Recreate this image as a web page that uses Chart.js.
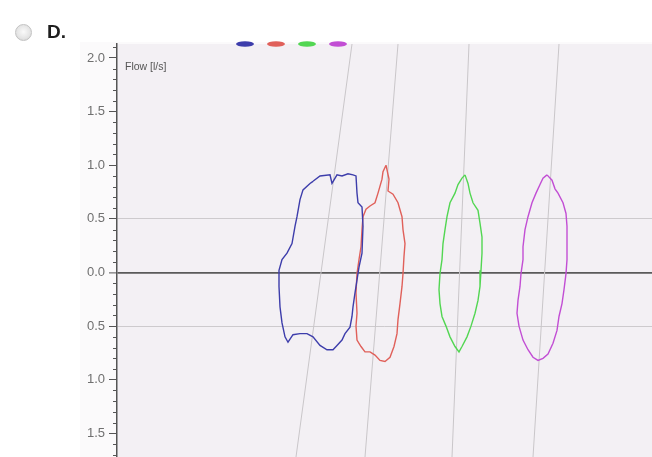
<!DOCTYPE html>
<html><head><meta charset="utf-8">
<script src="https://cdn.jsdelivr.net/npm/chart.js@4/dist/chart.umd.min.js"></script>
<style>
html,body{margin:0;padding:0;background:#fff;}
#wrap{position:relative;width:652px;height:457px;overflow:hidden;font-family:"Liberation Sans",Arial,sans-serif;}
canvas{position:absolute;left:0;top:0;}
#radio{position:absolute;left:15px;top:24px;width:15px;height:15px;border-radius:50%;border:1px solid #c2c2c2;background:radial-gradient(circle at 50% 45%,#fafafa 0%,#e4e4e4 60%,#cccccc 100%);}
#opt{position:absolute;left:47px;top:21px;font-weight:bold;font-size:19px;color:#1e1e1e;}
#ylab{position:absolute;left:125px;top:60px;font-size:10.5px;color:#555;}
</style></head>
<body><div id="wrap"><canvas id="c" width="652" height="457"></canvas><div id="radio"></div><div id="opt">D.</div><div id="ylab">Flow [l/s]</div></div>
<script>
// Y axis labels (shown without sign as in the reference)
const yTickValues = [2.0, 1.5, 1.0, 0.5, 0.0, -0.5, -1.0, -1.5];

// Loop 1 (blue)
const blueVol  = [1.95,2.02,2.12,2.14,2.19,2.24,2.30,2.35,2.38,2.39,2.40,2.44,2.45,2.44,2.41,2.39,2.37,2.35,2.34,2.32,2.27,2.24,2.19,2.15,2.09,2.02,1.95,1.89,1.82,1.75,1.70,1.67,1.64,1.62,1.61,1.61,1.64,1.69,1.74,1.77,1.79,1.82,1.85,1.92,1.95];
const blueFlow = [0.85,0.90,0.91,0.83,0.91,0.90,0.92,0.91,0.90,0.74,0.65,0.61,0.43,0.18,0.05,-0.07,-0.19,-0.32,-0.41,-0.51,-0.57,-0.63,-0.68,-0.72,-0.72,-0.68,-0.60,-0.57,-0.57,-0.58,-0.65,-0.60,-0.47,-0.32,-0.13,0.02,0.12,0.18,0.27,0.43,0.52,0.68,0.77,0.83,0.85];

// Loop 2 (red)
const redVol  = [2.68,2.71,2.70,2.75,2.80,2.84,2.85,2.87,2.86,2.85,2.84,2.82,2.80,2.79,2.76,2.72,2.67,2.62,2.57,2.52,2.47,2.43,2.39,2.38,2.39,2.38,2.39,2.41,2.43,2.44,2.45,2.48,2.52,2.57,2.60,2.64,2.65,2.68];
const redFlow = [1.00,0.87,0.76,0.73,0.65,0.52,0.40,0.27,0.15,-0.01,-0.13,-0.29,-0.44,-0.57,-0.69,-0.79,-0.83,-0.82,-0.77,-0.74,-0.74,-0.69,-0.63,-0.50,-0.38,-0.19,-0.01,0.12,0.24,0.40,0.52,0.59,0.62,0.65,0.74,0.87,0.94,1.00];

// Loop 3 (green)
const greenVol  = [3.47,3.50,3.52,3.55,3.60,3.62,3.64,3.64,3.63,3.62,3.60,3.57,3.53,3.49,3.44,3.41,3.37,3.32,3.28,3.24,3.22,3.21,3.22,3.24,3.25,3.27,3.29,3.32,3.37,3.40,3.44,3.47];
const greenFlow = [0.91,0.83,0.74,0.65,0.58,0.46,0.33,0.18,0.02,-0.13,-0.26,-0.38,-0.50,-0.60,-0.69,-0.74,-0.69,-0.60,-0.50,-0.41,-0.29,-0.16,-0.01,0.12,0.27,0.40,0.52,0.65,0.74,0.82,0.88,0.91];

// Loop 4 (magenta)
const magentaVol  = [4.29,4.34,4.37,4.40,4.45,4.48,4.49,4.49,4.49,4.48,4.46,4.44,4.41,4.39,4.35,4.30,4.25,4.20,4.15,4.10,4.05,4.01,3.99,4.00,4.02,4.03,4.05,4.05,4.07,4.10,4.14,4.18,4.22,4.25,4.29];
const magentaFlow = [0.91,0.86,0.78,0.74,0.65,0.55,0.43,0.27,0.12,-0.01,-0.16,-0.29,-0.41,-0.54,-0.66,-0.76,-0.80,-0.82,-0.79,-0.72,-0.63,-0.50,-0.38,-0.26,-0.13,-0.01,0.12,0.24,0.40,0.52,0.65,0.74,0.82,0.88,0.91];

// Slanted reference lines (volume at top and bottom of the plot)
const refTopVol    = [2.34, 2.80, 3.51, 4.41];
const refBottomVol = [1.78, 2.47, 3.34, 4.15];
const refTopFlow = 2.13, refBottomFlow = -1.72;

const loopColors = ['#3d3dab', '#e0605a', '#52d652', '#c24ed4'];

function pts(xs, ys){ return xs.map((x,i)=>({x:x, y:ys[i]})); }

const loops = [
  pts(blueVol, blueFlow), pts(redVol, redFlow),
  pts(greenVol, greenFlow), pts(magentaVol, magentaFlow)
];

const datasets = loops.map((d,i)=>({
  data: d, borderColor: loopColors[i], borderWidth: 1.4,
  pointRadius: 0, tension: 0, fill: false
}));
refTopVol.forEach((v,i)=>{
  datasets.push({
    data: [{x:v, y:refTopFlow},{x:refBottomVol[i], y:refBottomFlow}],
    borderColor: '#c9c6c9', borderWidth: 1, pointRadius: 0, fill: false
  });
});

const bgPlugin = {
  id: 'bg',
  beforeDraw(chart){
    const {ctx, chartArea:a} = chart;
    ctx.save();
    ctx.fillStyle = '#fbfafb';
    ctx.fillRect(80, 42, chart.width-80, chart.height-42);
    ctx.fillStyle = '#f3f0f4';
    ctx.fillRect(a.left, a.top, a.right-a.left, a.bottom-a.top);
    ctx.restore();
  },
  afterDraw(chart){
    const {ctx} = chart;
    const ys = chart.scales.y;
    ctx.save();
    ctx.strokeStyle = '#555';
    ctx.lineWidth = 1;
    for(let i=-17;i<=21;i++){
      if(i%5===0) continue;
      const py = Math.round(ys.getPixelForValue(i/10))+0.5;
      ctx.beginPath();
      ctx.moveTo(ys.right-4, py);
      ctx.lineTo(ys.right, py);
      ctx.stroke();
    }
    // legend swatches
    const cx0 = 245, step = 31, cy = 44;
    loopColors.forEach((c,i)=>{
      ctx.fillStyle = c;
      ctx.beginPath();
      ctx.ellipse(cx0+i*step, cy, 9, 2.8, 0, 0, Math.PI*2);
      ctx.fill();
    });
    ctx.restore();
  }
};

new Chart(document.getElementById('c'), {
  type: 'line',
  data: { datasets },
  plugins: [bgPlugin],
  options: {
    responsive: false,
    animation: false,
    layout: { padding: { top: 44, left: 0, right: 0, bottom: 0 } },
    plugins: { legend: { display: false }, tooltip: { enabled: false } },
    scales: {
      x: { type: 'linear', min: -0.01, max: 5.34, display: false },
      y: {
        type: 'linear', min: refBottomFlow, max: refTopFlow,
        afterFit(s){ s.width = 117; s.paddingTop = 0; s.paddingBottom = 0; },
        afterBuildTicks(s){ s.ticks = yTickValues.map(v=>({value:v})); },
        ticks: {
          includeBounds: false,
          padding: 4,
          color: '#707070',
          font: { size: 13, family: '"Liberation Sans", Arial, sans-serif' },
          callback: v => Math.abs(v).toFixed(1)
        },
        grid: {
          drawTicks: true, tickLength: 8, tickColor: '#555', tickWidth: 1,
          color: c => {
            const v = c.tick ? c.tick.value : null;
            if (v === 0) return '#5a5a5a';
            if (v === 0.5 || v === -0.5) return '#cdcacd';
            return 'rgba(0,0,0,0)';
          },
          lineWidth: c => (c.tick && c.tick.value === 0) ? 1.8 : 1
        },
        border: { display: true, color: '#555', width: 1.5 }
      }
    }
  }
});
</script></body></html>
